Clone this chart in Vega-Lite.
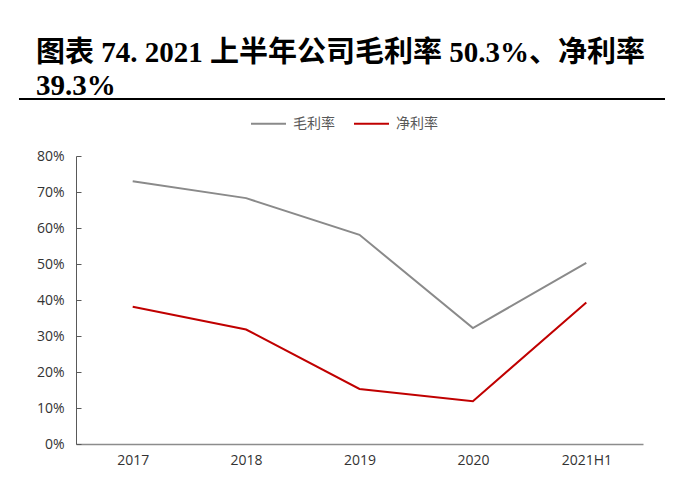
{
  "$schema": "https://vega.github.io/schema/vega-lite/v6.json",
  "background": "white",
  "padding": {"left": 17, "top": 39, "right": 10, "bottom": 5},
  "title": {
    "text": ["图表 74. 2021 上半年公司毛利率 50.3%、净利率", "39.3%"],
    "anchor": "start",
    "frame": "bounds",
    "dx": 18,
    "font": "Liberation Serif, Noto Sans CJK SC",
    "fontSize": 29,
    "fontWeight": "bold",
    "color": "black",
    "lineHeight": 33,
    "offset": -3
  },
  "columns": 1,
  "align": "none",
  "spacing": 5,
  "resolve": {"legend": {"color": "independent"}},
  "config": {"view": {"stroke": null}},
  "concat": [
    {
      "width": 589,
      "height": 2,
      "data": {"values": [{"v": 0.5}]},
      "mark": {"type": "rule", "color": "black", "strokeWidth": 2},
      "encoding": {
        "x": {"datum": -0.0968, "type": "quantitative", "axis": null, "scale": {"domain": [0, 1], "nice": false, "zero": false}},
        "x2": {"datum": 1},
        "y": {"field": "v", "type": "quantitative", "axis": null, "scale": {"domain": [0, 1]}}
      }
    },
    {
      "width": 567,
      "height": 288,
      "data": {
        "values": [
          {"year": "2017", "series": "毛利率", "value": 0.730},
          {"year": "2018", "series": "毛利率", "value": 0.683},
          {"year": "2019", "series": "毛利率", "value": 0.581},
          {"year": "2020", "series": "毛利率", "value": 0.322},
          {"year": "2021H1", "series": "毛利率", "value": 0.503},
          {"year": "2017", "series": "净利率", "value": 0.381},
          {"year": "2018", "series": "净利率", "value": 0.318},
          {"year": "2019", "series": "净利率", "value": 0.153},
          {"year": "2020", "series": "净利率", "value": 0.119},
          {"year": "2021H1", "series": "净利率", "value": 0.393}
        ]
      },
      "mark": {"type": "line", "strokeWidth": 2},
      "encoding": {
        "x": {
          "field": "year",
          "type": "ordinal",
          "sort": null,
          "title": null,
          "axis": {
            "labelAngle": 0,
            "ticks": false,
            "domainColor": "#8c8c8c",
            "domainWidth": 1.5,
            "labelFont": "Open Sans",
            "labelFontSize": 14,
            "labelColor": "#333333",
            "labelPadding": 9
          }
        },
        "y": {
          "field": "value",
          "type": "quantitative",
          "title": null,
          "scale": {"domain": [0, 0.8], "nice": false},
          "axis": {
            "values": [0, 0.1, 0.2, 0.3, 0.4, 0.5, 0.6, 0.7, 0.8],
            "format": ".0%",
            "grid": false,
            "tickSize": -5,
            "tickColor": "#595959",
            "domainColor": "#595959",
            "labelFont": "Open Sans",
            "labelFontSize": 14,
            "labelColor": "#333333",
            "labelPadding": 17,
            "minExtent": 57,
            "maxExtent": 57
          }
        },
        "color": {
          "field": "series",
          "type": "nominal",
          "scale": {"domain": ["毛利率", "净利率"], "range": ["#8a8a8a", "#c00000"]},
          "legend": {
            "title": null,
            "orient": "none",
            "direction": "horizontal",
            "legendX": 174,
            "legendY": -51,
            "symbolType": "stroke",
            "symbolSize": 1225,
            "symbolStrokeWidth": 2,
            "labelOffset": 6,
            "columnPadding": 15,
            "labelFont": "Noto Sans CJK SC",
            "labelFontSize": 14,
            "labelColor": "#595959"
          }
        }
      }
    }
  ]
}
